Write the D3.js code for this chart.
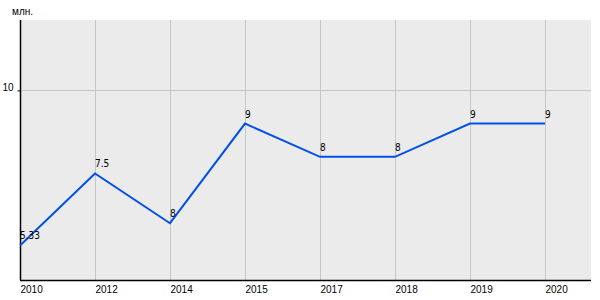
<!DOCTYPE html>
<html>
<head>
<meta charset="utf-8">
<script src="https://cdn.jsdelivr.net/npm/d3@7"></script>
<style>
  body { margin: 0; background: #fff; }
  text { font-family: "Liberation Sans", Arial, sans-serif; fill: #000; }
  .val { font-family: "Liberation Sans Narrow", "DejaVu Sans Condensed", "Liberation Sans", sans-serif; }
</style>
</head>
<body>
<svg width="600" height="300"></svg>
<script>
// data
const years = ["2010", "2012", "2014", "2015", "2017", "2018", "2019", "2020"];
const values = [5.33, 7.5, 6, 9, 8, 8, 9, 9];
const valueLabels = ["5.33", "7.5", "8", "9", "8", "8", "9", "9"];
const yTicks = [10];
const unitLabel = "млн.";

const LEFT = 20, RIGHT = 591, TOP = 20, BOTTOM = 280;

const svg = d3.select("svg");

const x = d3.scalePoint()
  .domain(years)
  .range([LEFT, LEFT + 75 * (years.length - 1)]);

const y = d3.scaleLinear()
  .domain([4.29, 12.12])
  .range([BOTTOM, TOP]);

// plot background
svg.append("rect")
  .attr("x", LEFT).attr("y", TOP)
  .attr("width", RIGHT - LEFT).attr("height", BOTTOM - TOP)
  .attr("fill", "#ebebeb");

// vertical grid
svg.append("g")
  .selectAll("line")
  .data(years.slice(1))
  .enter()
  .append("line")
  .attr("x1", (d) => Math.round(x(d)) + 0.5)
  .attr("x2", (d) => Math.round(x(d)) + 0.5)
  .attr("y1", TOP).attr("y2", BOTTOM)
  .attr("stroke", "#c6c6c6");

// horizontal grid
svg.append("g")
  .selectAll("line")
  .data(yTicks)
  .enter()
  .append("line")
  .attr("x1", LEFT).attr("x2", RIGHT)
  .attr("y1", (d) => Math.round(y(d)) + 0.5)
  .attr("y2", (d) => Math.round(y(d)) + 0.5)
  .attr("stroke", "#c6c6c6");

// y axis
const yAxis = svg.append("g")
  .attr("transform", "translate(" + (LEFT + 0.5) + ",0)")
  .call(d3.axisLeft(y).tickValues(yTicks).tickSize(3).tickPadding(4));
yAxis.select(".domain").attr("d", "M0," + TOP + "V" + BOTTOM).attr("stroke", "#000").attr("stroke-width", 1.5);
yAxis.selectAll("text").attr("font-size", 10).attr("font-family", "Liberation Sans, Arial, sans-serif").attr("dy", "0");

// x axis
const xAxis = svg.append("g")
  .attr("transform", "translate(0," + (BOTTOM + 0.5) + ")")
  .call(d3.axisBottom(x).tickSize(0).tickPadding(5));
xAxis.select(".domain").attr("d", "M" + LEFT + ",0H" + RIGHT).attr("stroke", "#000").attr("stroke-width", 1.5);
xAxis.selectAll("text")
  .attr("font-size", 10)
  .attr("font-family", "Liberation Sans, Arial, sans-serif")
  .attr("text-anchor", "start")
  .attr("dy", "0.75em");

// unit label
svg.append("text")
  .attr("x", 12).attr("y", 15)
  .attr("font-size", 10)
  .text(unitLabel);

// line
const line = d3.line()
  .x((d, i) => x(years[i]))
  .y((d) => y(d));

svg.append("path")
  .datum(values)
  .attr("d", line)
  .attr("fill", "none")
  .attr("stroke", "#0050e6")
  .attr("stroke-width", 2);

// value labels
svg.append("g")
  .selectAll("text")
  .data(values)
  .enter()
  .append("text")
  .attr("class", "val")
  .attr("x", (d, i) => x(years[i]))
  .attr("y", (d) => y(d) - 6)
  .attr("font-size", 10)
  .text((d, i) => valueLabels[i]);
</script>
</body>
</html>
